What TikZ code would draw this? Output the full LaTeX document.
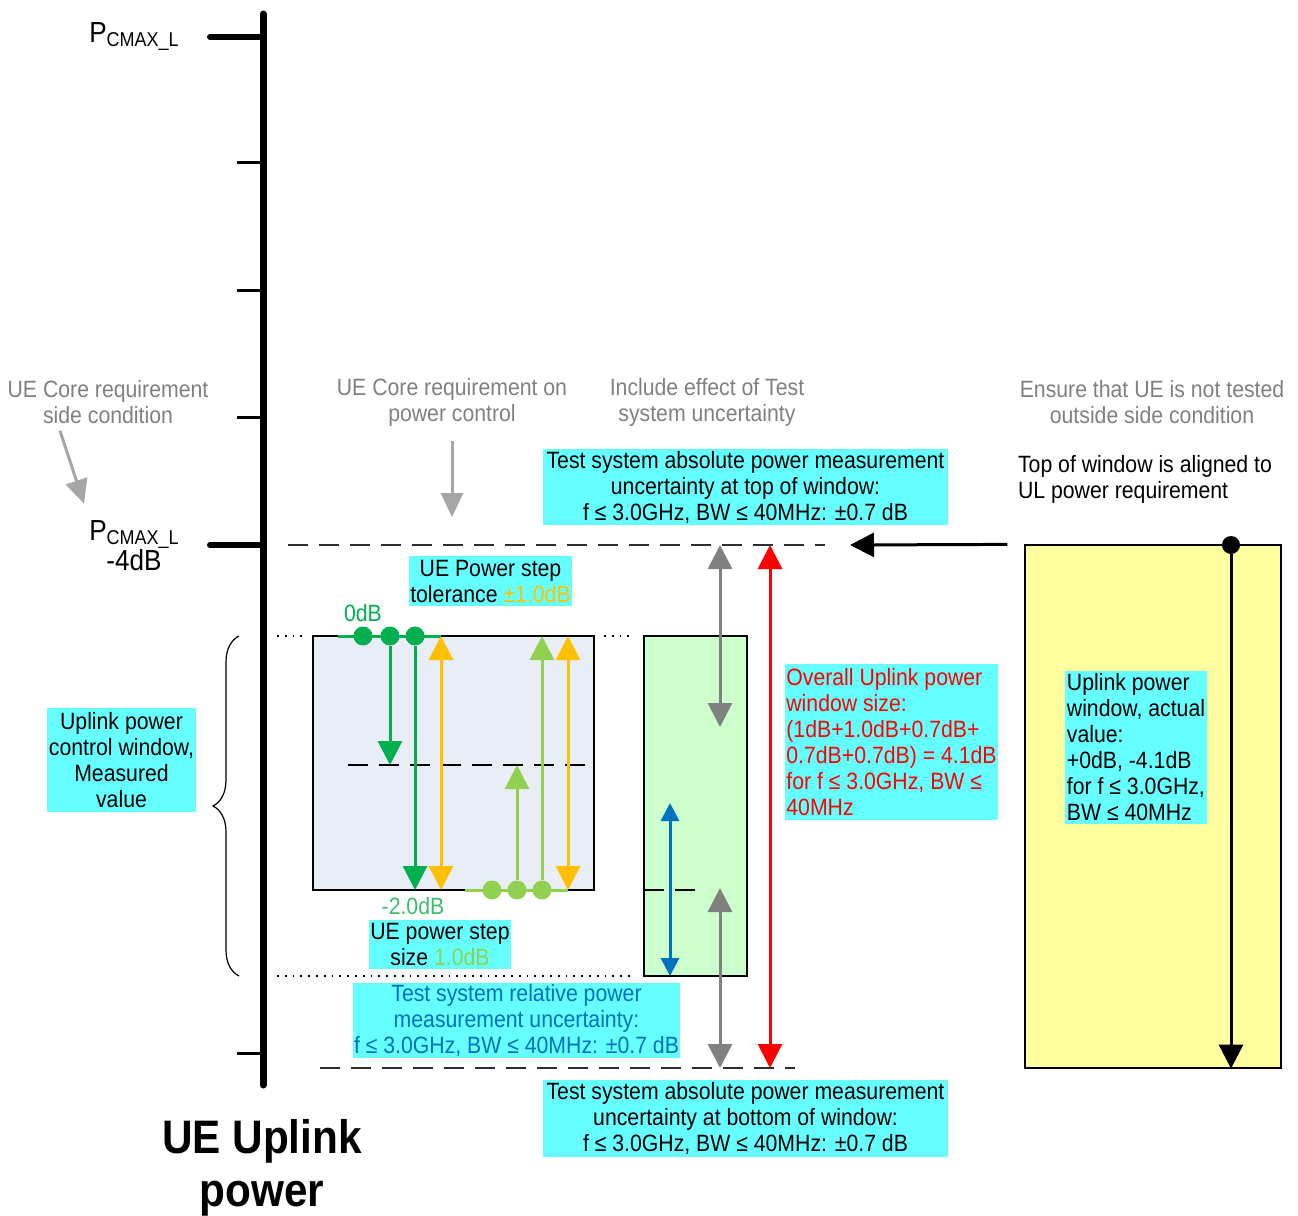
\documentclass[tikz,border=0pt]{standalone}
\usepackage{fontspec}
\setmainfont{Liberation Sans}[FakeStretch=0.9]
\usepackage{xcolor}
\usetikzlibrary{arrows.meta,positioning,decorations.pathreplacing}

\definecolor{infocyan}{RGB}{102,255,255}
\definecolor{notegray}{RGB}{128,128,128}
\definecolor{lblgray}{RGB}{166,166,166}
\definecolor{arrgray}{RGB}{128,128,128}
\definecolor{dashgray}{RGB}{45,45,45}
\definecolor{dkgreen}{RGB}{0,176,80}
\definecolor{stepgreen}{RGB}{146,208,80}
\definecolor{mintgreen}{RGB}{60,190,110}
\definecolor{tolorange}{RGB}{255,192,0}
\definecolor{relblue}{RGB}{0,112,192}
\definecolor{winfill}{RGB}{233,237,245}
\definecolor{relfill}{RGB}{204,255,204}
\definecolor{ylwfill}{RGB}{255,255,160}

\newcommand{\pcmaxl}{{\fontsize{14.5}{14.5}\selectfont P}\raisebox{-2pt}{\fontsize{10}{10}\selectfont CMAX\_L}}

\begin{document}
\begin{tikzpicture}[
    x=0.5pt, y=-0.5pt,
    font=\fontsize{11.8}{13}\selectfont,
    >={Triangle[length=12pt,width=12pt]},
    axis/.style={line width=3.5pt, line cap=round},
    majtick/.style={line width=3pt, line cap=round},
    mintick/.style={line width=1.5pt},
    note/.style={text=notegray, align=center},
    infobox/.style={fill=infocyan, inner sep=0pt, align=center},
    levelbox/.style={draw, inner sep=0pt, line width=0.6pt},
    winline/.style={line width=1.3pt, draw=dashgray, dash pattern=on 10pt off 5.5pt},
    dotline/.style={line width=0.9pt, dash pattern=on 0.9pt off 3pt},
    dot/.style={circle, inner sep=0pt, minimum size=9.5pt},
    lblarrow/.style={-{Triangle[length=12pt,width=11pt]}, line width=1.5pt, draw=lblgray},
    steparrow/.style={->, line width=1.5pt},
    stepboth/.style={<->, line width=1.5pt}
]
\useasboundingbox (0,0) rectangle (1298,1216);

% power axis
\draw[axis] (263,14) -- (263,1085);
\draw[majtick] (210,37) -- (263,37);
\draw[majtick] (210,545) -- (263,545);
\foreach \y in {162,290,417,1053}
    \draw[mintick] (237,\y) -- (263,\y);

\node (pmax) at (134,37) {\pcmaxl};
\node[align=center, font=\fontsize{14.5}{15}\selectfont] (pmin) at (134,546) {\pcmaxl\\-4dB};
\node[font=\bfseries\fontsize{23.5}{26.5}\selectfont, align=center] (title) at (262,1168) {UE Uplink\\power};

% grey notes
\node[note] (sidecond) at (108,402) {UE Core requirement\\side condition};
\node[note] (corepc) at (452,402) {UE Core requirement on\\power control};
\node[note] (tsunc) at (707,402) {Include effect of Test\\system uncertainty};
\node[note] (ensure) at (1152,402) {Ensure that UE is not tested\\outside side condition};
\node[align=left, anchor=west] (aligned) at (1011,479) {Top of window is aligned to\\UL power requirement};

\draw[lblarrow] ([xshift=-24pt]sidecond.south) -- ++(24,73);
\draw[lblarrow] ([yshift=-4pt]corepc.south) -- ++(0,76);

% level boxes
\node[levelbox, fill=winfill, minimum width=140.5pt, minimum height=127pt] (winbox) at (453.5,763) {};
\node[levelbox, fill=relfill, minimum width=51.5pt, minimum height=170pt] (relbox) at (695.5,806) {};
\node[levelbox, fill=ylwfill, minimum width=128pt, minimum height=261.5pt] (ybox) at (1153,806.5) {};

\draw[winline] (288,545) -- (825,545);
\draw[winline] (320,1068) -- (795,1068);
\draw[winline, draw=black, line width=0.9pt] (348,765) -- (590,765);
\draw[winline, draw=black, line width=0.9pt] (644,890) -- (697,890);
\draw[dotline] (277,636) -- (306,636);
\draw[dotline] (604,636) -- (632,636);
\draw[dotline] (277,976) -- (632,976);

\draw[decorate, decoration={brace, amplitude=13pt}, line width=0.6pt] (239,976) -- (239,636);

% info boxes
\node[infobox, minimum width=202.5pt, minimum height=38pt] (topunc) at (745.5,487) {Test system absolute power measurement\\uncertainty at top of window:\\f ≤ 3.0GHz, BW ≤ 40MHz: ±0.7 dB};
\node[infobox, minimum width=202.5pt, minimum height=38.5pt] (botunc) at (745.5,1118.5) {Test system absolute power measurement\\uncertainty at bottom of window:\\f ≤ 3.0GHz, BW ≤ 40MHz: ±0.7 dB};
\node[infobox, text=relblue, minimum width=163.5pt, minimum height=37.5pt] (relunc) at (516.5,1020.5) {Test system relative power\\measurement uncertainty:\\f ≤ 3.0GHz, BW ≤ 40MHz: ±0.7 dB};
\node[infobox, minimum width=81.5pt, minimum height=25pt] (steptol) at (490.5,581) {UE Power step\\tolerance \textcolor{tolorange}{±1.0dB}};
\node[infobox, minimum width=71pt, minimum height=24.5pt] (stepsize) at (440,944.5) {UE power step\\size \textcolor{stepgreen}{1.0dB}};
\node[infobox, minimum width=74.5pt, minimum height=52pt] (measwin) at (121.5,760) {Uplink power\\control window,\\Measured\\value};
\node[infobox, align=left, text=red, minimum width=106.5pt, minimum height=78pt] (overall) at (891.5,742) {Overall Uplink power\\window size:\\(1dB+1.0dB+0.7dB+\\0.7dB+0.7dB) = 4.1dB\\for f ≤ 3.0GHz, BW ≤\\40MHz};
\node[infobox, align=left, minimum width=71pt, minimum height=76.5pt] (actual) at (1136,747.5) {Uplink power\\window, actual\\value:\\+0dB, -4.1dB\\for f ≤ 3.0GHz,\\BW ≤ 40MHz};

% power steps
\draw[line width=1.5pt, draw=dkgreen] (338,636) -- (441,636);
\node[dot, fill=dkgreen] (g1) at (363,636) {};
\node[dot, fill=dkgreen] (g2) at (390,636) {};
\node[dot, fill=dkgreen] (g3) at (415,636) {};
\draw[steparrow, dkgreen] (g2) -- (390,765);
\draw[steparrow, dkgreen] (g3) -- (415,890);
\draw[line width=1.5pt, draw=stepgreen] (465,890) -- (568,890);
\draw[stepboth, tolorange] (441,636) -- (441,890);
\draw[stepboth, tolorange] (568,636) -- (568,890);
\node[dot, fill=stepgreen] (l1) at (492,890) {};
\node[dot, fill=stepgreen] (l2) at (517,890) {};
\node[dot, fill=stepgreen] (l3) at (542,890) {};
\draw[steparrow, stepgreen] (l2) -- (517,765);
\draw[steparrow, stepgreen] (l3) -- (542,636);
\node[text=dkgreen] (zerodb) at (363,613) {0dB};
\node[text=mintgreen] (twodb) at (413,906) {-2.0dB};

% uncertainties
\draw[{Triangle[length=9pt,width=9pt]}-{Triangle[length=9pt,width=9pt]}, line width=1.5pt, relblue] (670,803) -- (670,976);
\draw[stepboth, arrgray] (720,545) -- (720,727);
\draw[stepboth, arrgray] (720,888) -- (720,1068);
\draw[stepboth, red] (770,545) -- (770,1068);

% actual window
\coordinate (winedge) at (850,545);
\draw[steparrow] ([xshift=-8.5pt]ybox.north west) -- (winedge);
\node[dot, fill=black, minimum size=9pt] (ydot) at (1231,545) {};
\draw[steparrow] (ydot) -- (ydot |- ybox.south);
\end{tikzpicture}
\end{document}
